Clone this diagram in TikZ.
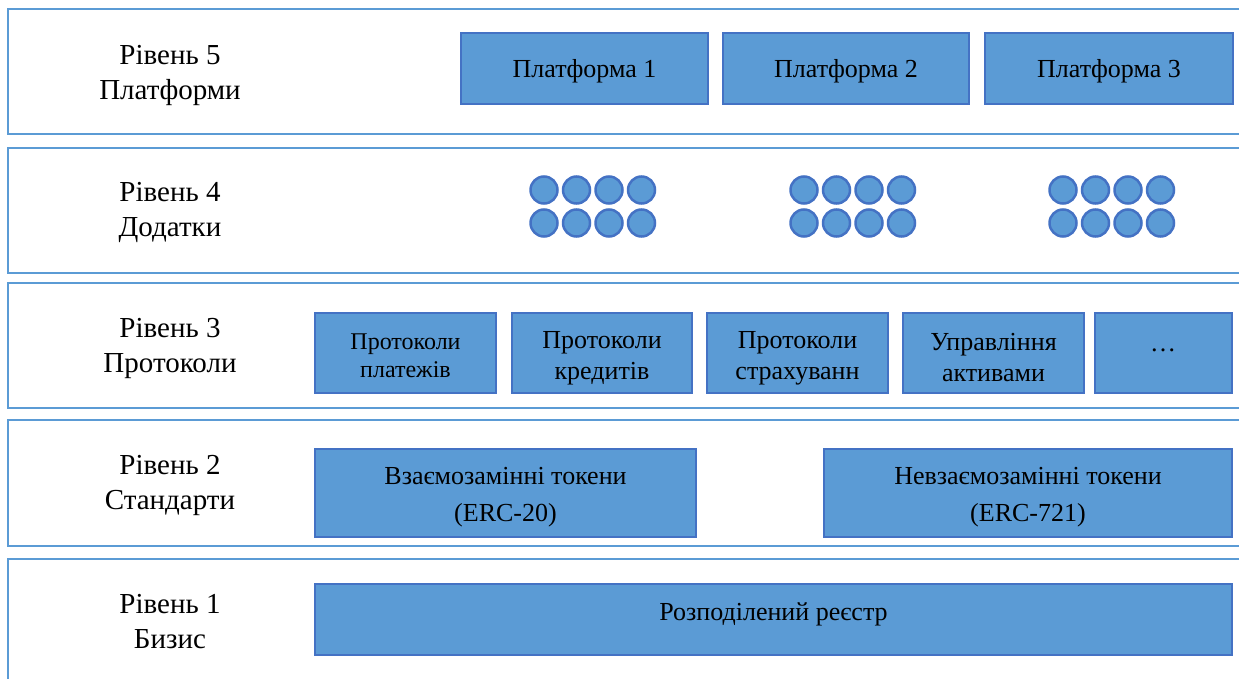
\documentclass[tikz,border=0pt]{standalone}
\usepackage{fontspec}
\setmainfont{Liberation Serif}
\definecolor{fillblue}{HTML}{5B9BD5}
\definecolor{edgeblue}{HTML}{4472C4}
\definecolor{frameblue}{HTML}{5B9BD5}
\begin{document}
\begin{tikzpicture}[x=1pt,y=-1pt,
  layer/.style={draw=frameblue, line width=2.5pt, rectangle, inner sep=0pt, outer sep=0pt},
  box/.style={draw=edgeblue, fill=fillblue, line width=2.5pt, rectangle, inner sep=0pt, outer sep=0pt},
  dot/.style={circle, draw=edgeblue, fill=fillblue, line width=2.5pt, minimum size=27pt, inner sep=0pt},
  lbl/.style={align=center, inner sep=0pt, font=\fontsize{29}{35}\selectfont},
  txt/.style={align=center, inner sep=0pt, font=\fontsize{26}{31}\selectfont},
  txts/.style={align=center, inner sep=0pt, font=\fontsize{24}{28}\selectfont},
  txtw/.style={align=center, inner sep=0pt, font=\fontsize{26}{37}\selectfont}]
\useasboundingbox (0,0) rectangle (1239,679);
\clip (0,0) rectangle (1239,679);
\fill[white] (0,0) rectangle (1239,679);
% layer frames
\node[layer, minimum width=1252pt, minimum height=125pt] (L5) at (634,71.5) {};
\node[layer, minimum width=1252pt, minimum height=125pt] (L4) at (634,210.5) {};
\node[layer, minimum width=1252pt, minimum height=125pt] (L3) at (634,345.5) {};
\node[layer, minimum width=1252pt, minimum height=126pt] (L2) at (634,483) {};
\node[layer, minimum width=1252pt, minimum height=125pt] (L1) at (634,621.5) {};
% layer labels
\node[lbl] (l5) at (170,75) {Рівень 5\\Платформи};
\node[lbl] (l4) at (170,212) {Рівень 4\\Додатки};
\node[lbl] (l3) at (170,348) {Рівень 3\\Протоколи};
\node[lbl] (l2) at (170,485) {Рівень 2\\Стандарти};
\node[lbl] (l1) at (170,622) {Рівень 1\\Бизис};
% level 5 platforms
\node[box, minimum width=247pt, minimum height=71pt] (p1) at (584.5,68.5) {};
\node[box, minimum width=246pt, minimum height=71pt] (p2) at (846,68.5) {};
\node[box, minimum width=248pt, minimum height=71pt] (p3) at (1109,68.5) {};
\node[txt, text height=10pt, text depth=10pt] (tp1) at ([yshift=-9.5pt]p1.center) {Платформа 1};
\node[txt, text height=10pt, text depth=10pt] (tp2) at ([yshift=-9.5pt]p2.center) {Платформа 2};
\node[txt, text height=10pt, text depth=10pt] (tp3) at ([yshift=-9.5pt]p3.center) {Платформа 3};
% level 4 apps
\foreach \g/\gx in {a/544,b/804,c/1063}{
  \foreach \i in {0,1,2,3}{
    \node[dot] (\g t\i) at (\gx+32.5*\i,190) {};
    \node[dot] (\g b\i) at (\gx+32.5*\i,223) {};
  }
}
% level 3 protocols
\node[box, minimum width=181pt, minimum height=80pt] (r1) at (405.5,353) {};
\node[box, minimum width=180pt, minimum height=80pt] (r2) at (602,353) {};
\node[box, minimum width=181pt, minimum height=80pt] (r3) at (797.5,353) {};
\node[box, minimum width=181pt, minimum height=80pt] (r4) at (993.5,353) {};
\node[box, minimum width=137pt, minimum height=80pt] (r5) at (1163.5,353) {};
\node[txts] (tr1) at ([yshift=-3pt]r1.center) {Протоколи\\платежів};
\node[txt] (tr2) at ([yshift=-5pt]r2.center) {Протоколи\\кредитів};
\node[txt] (tr3) at ([yshift=-5pt]r3.center) {Протоколи\\страхуванн};
\node[txt] (tr4) at ([yshift=-5pt]r4.center) {Управління\\активами};
\node[txt, anchor=base] (tr5) at (1163,351) {…};
% level 2 standards
\node[box, minimum width=381pt, minimum height=88pt] (s1) at (505.5,493) {};
\node[box, minimum width=408pt, minimum height=88pt] (s2) at (1028,493) {};
\node[txtw] (ts1) at ([yshift=-4.5pt]s1.center) {Взаємозамінні токени\\(ERC-20)};
\node[txtw] (ts2) at ([yshift=-4.5pt]s2.center) {Невзаємозамінні токени\\(ERC-721)};
% level 1 ledger
\node[box, minimum width=917pt, minimum height=71pt] (d1) at (773.5,619.5) {};
\node[txt, text height=10pt, text depth=10pt] (td1) at ([yshift=-0.5pt]d1.center) {Розподілений реєстр};
\end{tikzpicture}
\end{document}
